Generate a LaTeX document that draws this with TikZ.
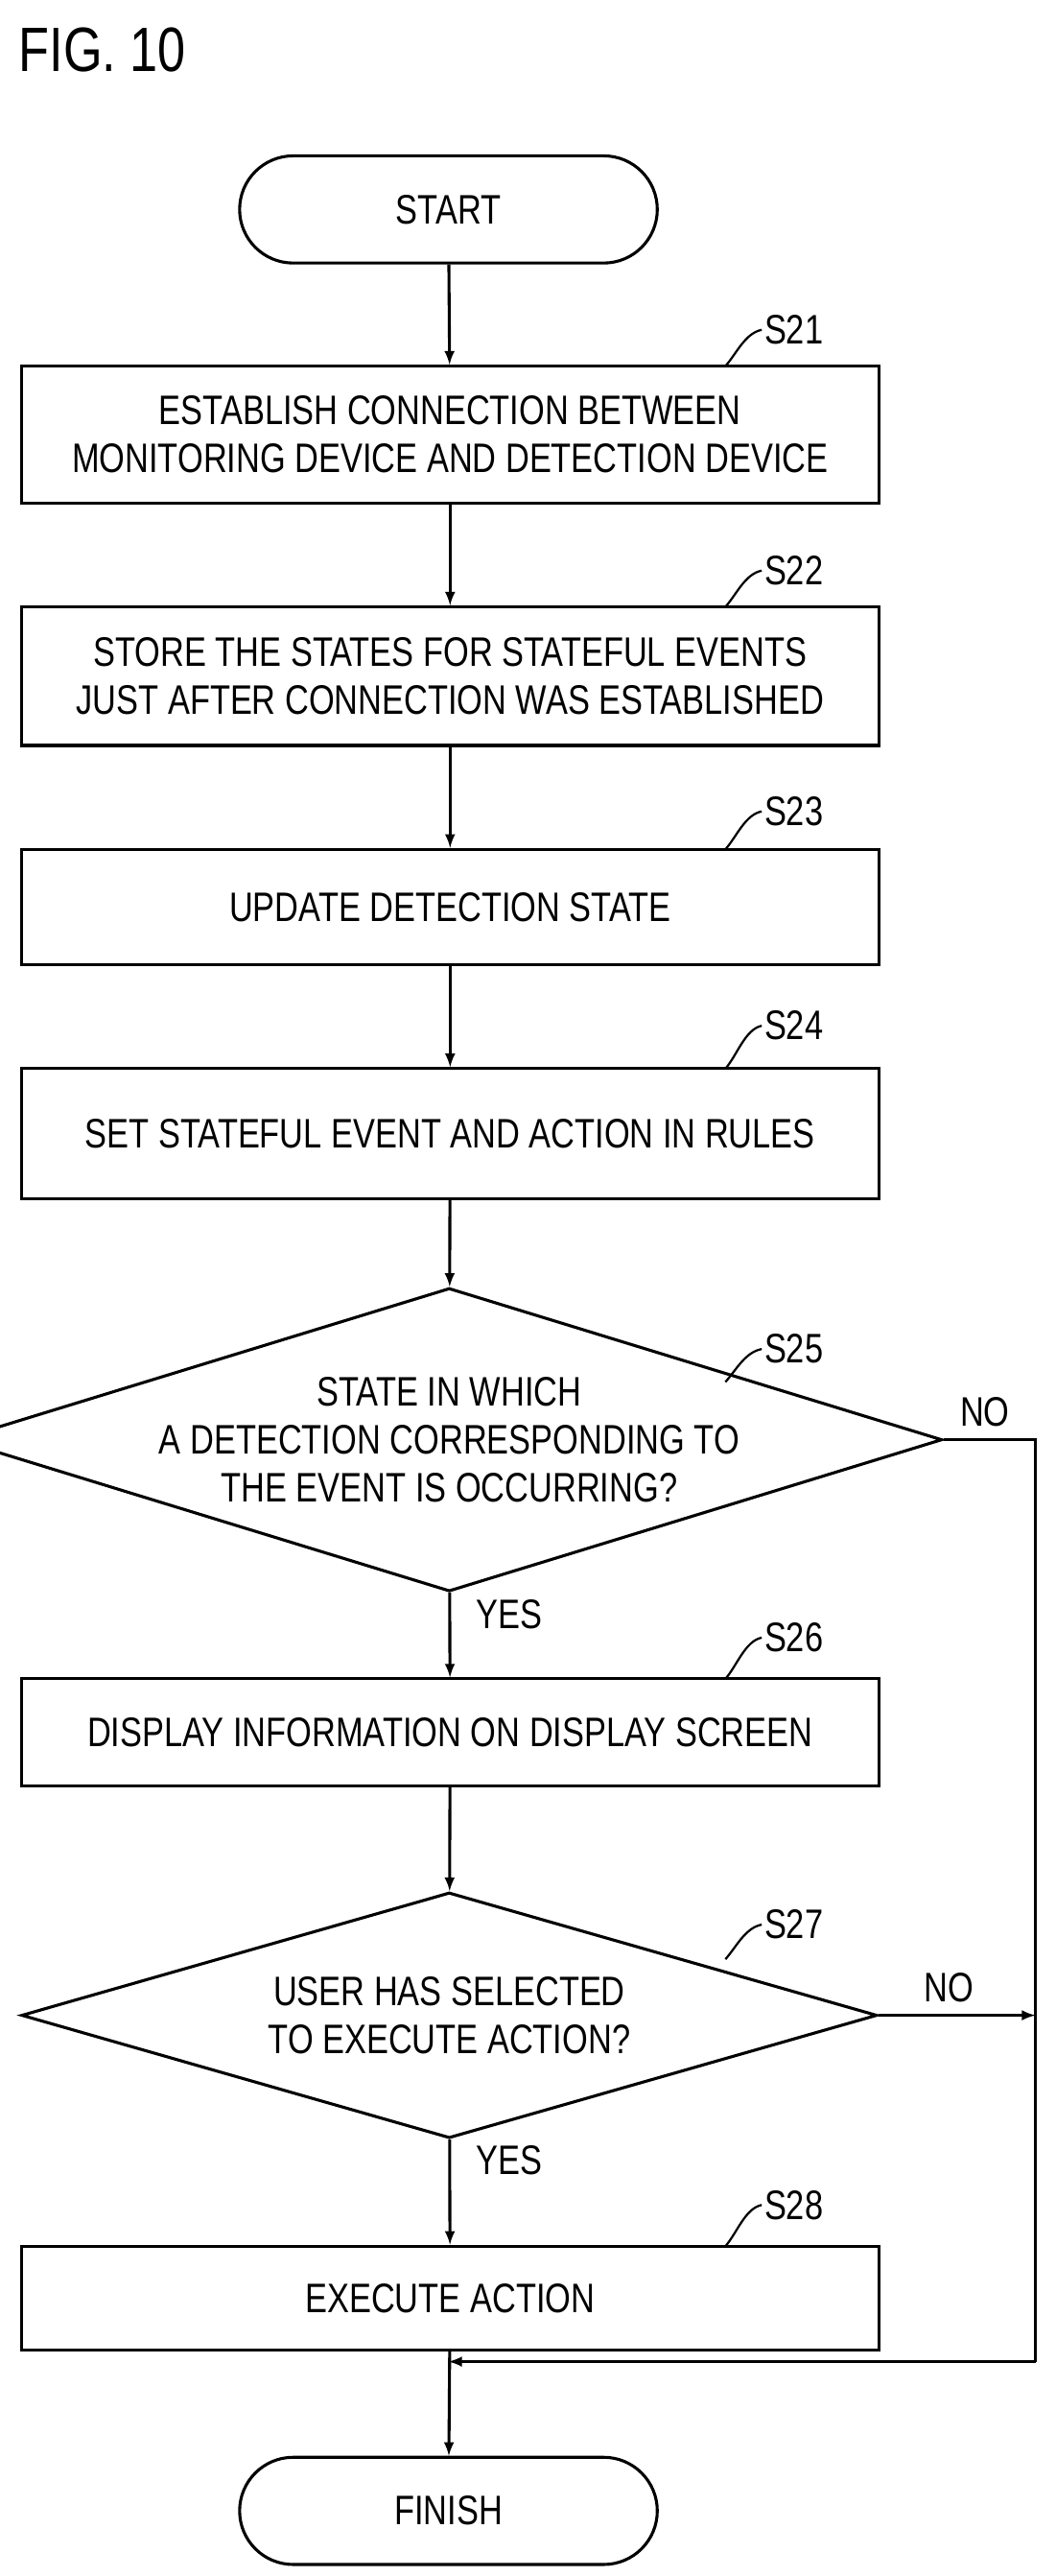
\documentclass[tikz,border=0pt]{standalone}
\usepackage{fontspec}
\setmainfont[FakeStretch=0.8]{Liberation Sans}
\usetikzlibrary{positioning}
\usetikzlibrary{shapes.geometric,shapes.misc}
\usetikzlibrary{calc}

\begin{document}
\begin{tikzpicture}[
        x=1pt, y=-1pt,
        every node/.style={
            font=\fontsize{25}{29}\selectfont,
        },
        process/.style={
            draw,
            line width=1.8pt,
            minimum width=520pt,
            align=center,
            inner sep=0pt,
        },
        terminal/.style={
            draw,
            line width=1.8pt,
            rounded rectangle,
            minimum width=260pt,
            minimum height=65pt,
        },
        decision/.style={
            draw,
            line width=1.8pt,
            diamond,
            aspect=3.25,
            minimum width=519pt,
            minimum height=160pt,
            align=center,
            inner sep=0pt,
        },
        flow/.style={
            -latex,
            line width=1.8pt,
        },
        tick/.style={
            line width=1.3pt,
        },
    ]
    \useasboundingbox (0,0) rectangle (640,1562);
    \node[anchor=west, font=\fontsize{38}{42}\selectfont] (fig) at (8,30) {FIG. 10};

    % Define steps.
    \node[terminal] (start) at (272,127) {START};
    \node[process, minimum height=83pt] (s21) at (273,263.5)
        {ESTABLISH CONNECTION BETWEEN\\MONITORING DEVICE AND DETECTION DEVICE};
    \node[process, minimum height=84pt] (s22) at (273,410)
        {STORE THE STATES FOR STATEFUL EVENTS\\JUST AFTER CONNECTION WAS ESTABLISHED};
    \node[process, minimum height=70pt] (s23) at (273,550) {UPDATE DETECTION STATE};
    \node[process, minimum height=79pt] (s24) at (273,687.5) {SET STATEFUL EVENT AND ACTION IN RULES};
    \node[decision] (s25) at (272.5,873)
        {STATE IN WHICH\\A DETECTION CORRESPONDING TO\\THE EVENT IS OCCURRING?};
    \node[process, minimum height=65pt] (s26) at (273,1050.5) {DISPLAY INFORMATION ON DISPLAY SCREEN};
    \node[decision, minimum height=149pt] (s27) at (272.5,1222)
        {USER HAS SELECTED\\TO EXECUTE ACTION?};
    \node[process, minimum height=63pt] (s28) at (273,1393.5) {EXECUTE ACTION};
    \node[terminal] (finish) at (272,1522.5) {FINISH};

    % Step labels.
    \foreach \name/\ty/\ly in {s21/222/200, s22/368/346, s23/515/492, s24/648/622,
                               s25/838/818, s26/1018/993, s27/1188/1167, s28/1362/1337} {
        \draw[tick] (440,\ty) .. controls (447,\ty-8) and (452,\ly+2) .. (462,\ly)
            node[anchor=west, inner sep=1pt] (l\name) {\MakeUppercase{\name}};
    }

    % Main flow.
    \draw[flow] (start) -- (s21);
    \draw[flow] (s21) -- (s22);
    \draw[flow] (s22) -- (s23);
    \draw[flow] (s23) -- (s24);
    \draw[flow] (s24) -- (s25);
    \draw[flow] (s25) -- node[pos=0.25, right=12pt] {YES} (s26);
    \draw[flow] (s26) -- (s27);
    \draw[flow] (s27) -- node[pos=0.2, right=12pt] {YES} (s28);
    \draw[flow] (s28) -- (finish);

    % Bypass.
    \coordinate (c1) at (628,873);
    \coordinate (c2) at (628,1222);
    \coordinate (c3) at (628,1432);
    \coordinate (c4) at (272,1432);
    \draw[line width=1.8pt] (s25.east) -- node[pos=0.45, above=4pt] {NO} (c1) -- (c3);
    \draw[flow] (c3) -- (c4);
    \draw[flow] (s27.east) -- node[pos=0.45, above=4pt] {NO} (c2);
\end{tikzpicture}
\end{document}
